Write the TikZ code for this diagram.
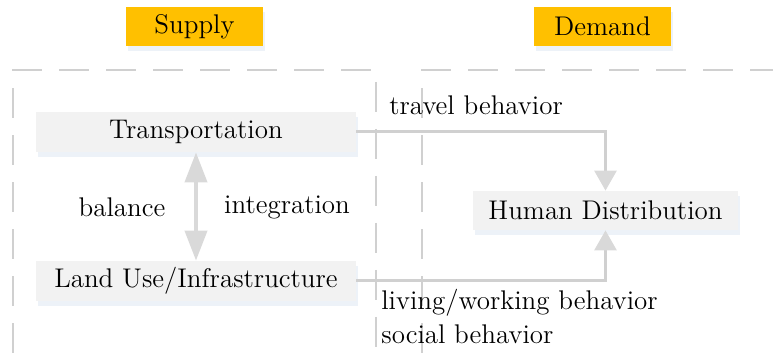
\documentclass[tikz,border=0pt]{standalone}
\usepackage{tikz}
\usetikzlibrary{arrows.meta,shapes,positioning,shadows}
\usepackage{xcolor}
\definecolor{sdgold}{RGB}{255,192,0}
\definecolor{sdbox}{RGB}{242,242,242}
\definecolor{sdline}{RGB}{208,208,208}
\definecolor{sdarrow}{RGB}{217,217,217}
\definecolor{sdshade}{RGB}{220,230,242}
\tikzstyle{title} = [fill=sdgold, minimum width=68.5pt, minimum height=19.5pt, inner sep=0pt,
  drop shadow={fill=sdshade, shadow xshift=1pt, shadow yshift=-2.5pt}]
\tikzstyle{block} = [fill=sdbox, minimum height=20pt, inner sep=0pt,
  drop shadow={fill=sdshade, shadow xshift=1pt, shadow yshift=-2.5pt}]
\tikzstyle{frame} = [sdline, line width=1pt, dash pattern=on 15pt off 8.5pt]
\tikzstyle{conn} = [sdline, line width=1.5pt, -{Triangle[width=11pt,length=10pt,color=sdarrow]}]
\tikzstyle{both} = [sdarrow, line width=2pt, {Triangle[width=11pt,length=15pt]}-{Triangle[width=11pt,length=15pt]}]

\begin{document}
\begin{tikzpicture}[x=0.5pt, y=-0.5pt, font=\fontsize{13.5}{16}\selectfont]
\useasboundingbox (0,0) rectangle (773,353);
\clip (0,0) rectangle (773,353);

% Dashed frames
\draw[frame] (13,400) -- (13,70) -- (376,70) -- (376,400);
\draw[frame] (422,400) -- (422,70) -- (800,70);

% Titles
\node[title] (supply) at (194.5,26.5) {Supply};
\node[title] (demand) at (602.5,26.5) {Demand};

% Boxes
\node[block, minimum width=160pt] (trans) at (196,132) {Transportation};
\node[block, minimum width=160pt] (landuse) at (196,281) {Land Use/Infrastructure};
\node[block, minimum width=132.5pt, minimum height=19.5pt] (human) at (605.5,210.5) {Human Distribution};

% Links
\draw[both] (trans.south) -- (landuse.north);
\draw[conn] (trans.east) -| (human.north);
\draw[conn] (landuse.east) -| (human.south);

% Labels
\node (bal) at (122,207) {balance};
\node (integ) at (287,207) {integration};
\node[anchor=west, inner sep=0pt] (travel) at (389,105) {travel behavior};
\node[anchor=west, inner sep=0pt] (living) at (381,303) {living/working behavior};
\node[anchor=west, inner sep=0pt] (social) at (381,334) {social behavior};
\end{tikzpicture}
\end{document}
